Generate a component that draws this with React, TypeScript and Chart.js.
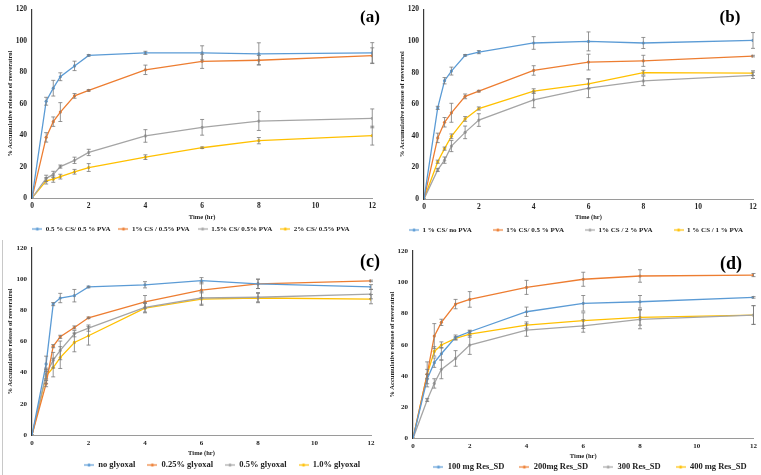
import React, { useEffect, useRef } from "react";
import { Chart, registerables } from "chart.js";
Chart.register(...registerables);

const TIME = [0, 0.5, 0.75, 1, 1.5, 2, 4, 6, 8, 12];
const X_MIN = 0, X_MAX = 12, X_STEP = 2;
const Y_MIN = 0, Y_MAX = 120, Y_STEP = 20;
const X_TITLE = "Time (hr)";
const Y_TITLE = "% Accumulative release of resveratrol";
const COLORS = ["#5B9BD5", "#ED7D31", "#A5A5A5", "#FFC000"];

// Panel (a)
const A_LABELS = ["0.5 % CS/ 0.5 % PVA", "1% CS / 0.5% PVA", "1.5% CS/ 0.5% PVA", "2% CS/ 0.5% PVA"];
const A_S1 = [0, 61.6, 69.9, 77.2, 84.1, 90.8, 92.4, 92.4, 91.8, 92.4];
const A_S1_ERR = [0, 2.5, 5, 2.5, 3, 0.5, 1, 4.5, 7, 6.5];
const A_S2 = [0, 38.6, 48.6, 54.7, 65, 68.5, 81.6, 87, 87.7, 90.6];
const A_S2_ERR = [0, 3, 3, 6, 1.5, 0.5, 3, 4.5, 3, 5];
const A_S3 = [0, 12.5, 15, 20, 24, 29, 39.5, 45, 49, 50.7];
const A_S3_ERR = [0, 2, 2, 1, 2, 2, 4, 5, 6, 6];
const A_S4 = [0, 10.9, 12, 13.6, 16.7, 19.4, 26, 32, 36.5, 39.7];
const A_S4_ERR = [0, 2, 2, 1.5, 1.5, 2.5, 1.5, 0.5, 2, 6];

// Panel (b)
const B_LABELS = ["1 % CS/ no PVA", "1% CS/ 0.5 % PVA", "1% CS / 2 % PVA", "1 % CS / 1 % PVA"];
const B_S1 = [0, 57.7, 74.9, 81, 91, 93, 98.8, 99.8, 98.8, 100.4];
const B_S1_ERR = [0, 1, 2, 2.5, 0.5, 1, 4, 6, 3.5, 5];
const B_S2 = [0, 38.7, 48.6, 54.6, 65, 68.3, 81.4, 86.7, 87.5, 90.5];
const B_S2_ERR = [0, 3, 3, 6, 1.5, 0.5, 3, 5, 3.5, 0.5];
const B_S3 = [0, 18.4, 24.6, 33.5, 42.2, 50, 62.8, 70.2, 74.8, 78.3];
const B_S3_ERR = [0, 1, 2, 3.5, 4, 4, 5, 6, 3, 2];
const B_S4 = [0, 23.6, 31.9, 39.7, 50.7, 57.3, 68.3, 72.9, 80, 79.7];
const B_S4_ERR = [0, 1, 1, 1.5, 1.5, 1, 1.5, 3, 1.5, 1.5];

// Panel (c)
const C_LABELS = ["no glyoxal", "0.25% glyoxal", "0.5% glyoxal", "1.0% glyoxal"];
const C_S1 = [0, 45.6, 84, 87.9, 89.4, 95, 96.4, 99, 97, 95];
const C_S1_ERR = [0, 5, 1, 3, 4, 0.5, 2, 2, 3, 1.5];
const C_S2 = [0, 33, 57, 63, 69, 75.2, 85.5, 93, 97, 98.9];
const C_S2_ERR = [0, 2, 1, 1, 1, 0.5, 4, 5, 3, 0.5];
const C_S3 = [0, 39, 48, 54.3, 65, 68.6, 81.9, 87.9, 88.4, 90.4];
const C_S3_ERR = [0, 3, 5, 6, 2, 2, 3, 4, 3, 3];
const C_S4 = [0, 37.9, 43.3, 49.7, 59.4, 63.7, 81.4, 87.2, 87.9, 87.2];
const C_S4_ERR = [0, 5, 6, 7, 6, 6, 3, 4, 3, 3];

// Panel (d)
const D_LABELS = ["100 mg Res_SD", "200mg Res_SD", "300 Res_SD", "400 mg Res_SD"];
const D_S1 = [0, 38, 48.5, 54.2, 64.7, 68.3, 81.1, 86.5, 87.5, 90.3];
const D_S1_ERR = [0, 3, 3, 4, 1.5, 1, 3, 5, 4, 0.5];
const D_S2 = [0, 41.2, 65.5, 74.3, 86, 89, 96.7, 101.9, 104, 104.6];
const D_S2_ERR = [0, 3, 8, 2, 3, 5, 4.5, 4.5, 4, 1];
const D_S3 = [0, 24.6, 35.2, 44.2, 51.2, 59.8, 69.4, 72, 76.2, 79];
const D_S3_ERR = [0, 1, 3, 6, 5, 6, 4, 4, 6, 6];
const D_S4 = [0, 41, 55.7, 59.8, 64, 66.8, 72.6, 75.4, 77.5, 79];
const D_S4_ERR = [0, 8, 3, 2, 1, 2, 2, 5, 5, 6];

const FONT = "'Liberation Serif', 'Times New Roman', serif";
const EXTRA = 60; // canvas overhang on the left so the legend never wraps

const PANELS = [
  {
    key: "a", tag: "(a)", left: 0, top: 0, w: 380, h: 236,
    pad: { left: 6, right: 7, top: 7, bottom: 14 }, yW: 26, xH: 23,
    tickSize: 7.5, legendSize: 7, legendGap: 8, legendCx: 191, legendCy: 229,
    tagX: 370, tagY: 18, tagSize: 17,
    labels: A_LABELS, values: [A_S1, A_S2, A_S3, A_S4], errors: [A_S1_ERR, A_S2_ERR, A_S3_ERR, A_S4_ERR],
  },
  {
    key: "b", tag: "(b)", left: 380, top: 0, w: 381, h: 236,
    pad: { left: 18, right: 8, top: 6, bottom: 14 }, yW: 26, xH: 22,
    tickSize: 7.5, legendSize: 7, legendGap: 21, legendCx: 196, legendCy: 230,
    tagX: 350, tagY: 18, tagSize: 17,
    labels: B_LABELS, values: [B_S1, B_S2, B_S3, B_S4], errors: [B_S1_ERR, B_S2_ERR, B_S3_ERR, B_S4_ERR],
  },
  {
    key: "c", tag: "(c)", left: 0, top: 236, w: 380, h: 239,
    pad: { left: 6, right: 9, top: 12, bottom: 17 }, yW: 26, xH: 22,
    tickSize: 7, legendSize: 8.5, legendGap: 12, legendCx: 222, legendCy: 229,
    tagX: 370, tagY: 26, tagSize: 18,
    labels: C_LABELS, values: [C_S1, C_S2, C_S3, C_S4], errors: [C_S1_ERR, C_S2_ERR, C_S3_ERR, C_S4_ERR],
  },
  {
    key: "d", tag: "(d)", left: 380, top: 236, w: 381, h: 239,
    pad: { left: 8, right: 6, top: 15, bottom: 14 }, yW: 25, xH: 21.6,
    tickSize: 7, legendSize: 8.5, legendGap: 15, legendCx: 210, legendCy: 231,
    tagX: 351, tagY: 28, tagSize: 18,
    labels: D_LABELS, values: [D_S1, D_S2, D_S3, D_S4], errors: [D_S1_ERR, D_S2_ERR, D_S3_ERR, D_S4_ERR],
  },
];

function makeMarker(color: string) {
  const c = document.createElement("canvas");
  c.width = 10;
  c.height = 5;
  const g = c.getContext("2d")!;
  g.strokeStyle = color;
  g.lineWidth = 1.2;
  g.beginPath();
  g.moveTo(0, 2.5);
  g.lineTo(10, 2.5);
  g.stroke();
  g.fillStyle = color;
  g.beginPath();
  g.arc(5, 2.5, 1.6, 0, Math.PI * 2);
  g.fill();
  return c;
}

const errorBarPlugin = {
  id: "errorBars",
  afterDatasetsDraw(chart: any) {
    const ctx = chart.ctx;
    const ys = chart.scales.y;
    ctx.save();
    ctx.strokeStyle = "#7a7a7a";
    ctx.lineWidth = 0.8;
    chart.data.datasets.forEach((ds: any, i: number) => {
      const meta = chart.getDatasetMeta(i);
      meta.data.forEach((pt: any, j: number) => {
        const e = ds.errors[j];
        if (!e) return;
        const v = ds.data[j].y;
        const x = pt.x;
        const y1 = ys.getPixelForValue(v + e);
        const y2 = ys.getPixelForValue(v - e);
        ctx.beginPath();
        ctx.moveTo(x, y1); ctx.lineTo(x, y2);
        ctx.moveTo(x - 2, y1); ctx.lineTo(x + 2, y1);
        ctx.moveTo(x - 2, y2); ctx.lineTo(x + 2, y2);
        ctx.stroke();
      });
    });
    ctx.restore();
  },
};

const legendPlacePlugin = {
  id: "legendPlace",
  afterLayout(chart: any, _args: any, opts: any) {
    const lg = chart.legend;
    if (!lg) return;
    const w = lg.right - lg.left;
    lg.left = opts.cx - w / 2;
    lg.right = lg.left + w;
    lg.top = opts.cy - opts.gap - opts.size / 2;
    lg.bottom = lg.top + opts.gap * 2 + opts.size + 6;
    lg.height = lg.bottom - lg.top;
  },
};

const tagPlugin = {
  id: "panelTag",
  afterDraw(chart: any, _args: any, opts: any) {
    const ctx = chart.ctx;
    ctx.save();
    ctx.font = `bold ${opts.size}px ${FONT}`;
    ctx.fillStyle = "#000";
    ctx.textAlign = "center";
    ctx.textBaseline = "middle";
    ctx.fillText(opts.text, opts.x, opts.y);
    ctx.restore();
  },
};

function Panel({ p }: { p: (typeof PANELS)[number] }) {
  const ref = useRef<HTMLCanvasElement>(null);
  const cw = p.w + EXTRA;
  useEffect(() => {
    const markers = COLORS.map(makeMarker);
    const datasets = p.labels.map((label, i) => ({
      label,
      data: TIME.map((t, j) => ({ x: t, y: p.values[i][j] })),
      errors: p.errors[i],
      borderColor: COLORS[i],
      backgroundColor: COLORS[i],
      borderWidth: 1.3,
      pointRadius: 1.6,
      pointBorderWidth: 0,
      pointBackgroundColor: COLORS[i],
      tension: 0,
    }));
    const chart = new Chart(ref.current!, {
      type: "line",
      data: { datasets } as any,
      options: {
        animation: false,
        responsive: false,
        devicePixelRatio: 1,
        layout: { padding: p.pad },
        font: { family: FONT },
        scales: {
          x: {
            type: "linear",
            min: X_MIN,
            max: X_MAX,
            grid: { display: false, drawTicks: false },
            border: { display: true, color: "#9a9a9a", width: 1 },
            ticks: {
              stepSize: X_STEP,
              autoSkip: false,
              padding: 4,
              color: "#222",
              font: { family: FONT, size: p.tickSize, weight: "bold" },
            },
            title: {
              display: true,
              text: X_TITLE,
              color: "#222",
              padding: 0,
              font: { family: FONT, size: 6.5, weight: "bold" },
            },
            afterFit: (s: any) => { s.height = p.xH; },
          },
          y: {
            min: Y_MIN,
            max: Y_MAX,
            grid: { display: false, drawTicks: false },
            border: { display: true, color: "#3a3a3a", width: 1.2 },
            ticks: {
              stepSize: Y_STEP,
              padding: 5,
              color: "#222",
              font: { family: FONT, size: p.tickSize, weight: "bold" },
            },
            title: {
              display: true,
              text: Y_TITLE,
              color: "#222",
              padding: { top: EXTRA, bottom: 0 },
              font: { family: FONT, size: 6.5, weight: "bold" },
            },
            afterFit: (s: any) => { s.width = p.yW + EXTRA; },
          },
        },
        plugins: {
          tooltip: { enabled: false },
          legend: {
            position: "bottom",
            maxHeight: 1,
            labels: {
              usePointStyle: true,
              pointStyleWidth: 10,
              padding: p.legendGap,
              color: "#222",
              font: { family: FONT, size: p.legendSize, weight: "bold" },
              generateLabels: (chart: any) => {
                const items = (Chart.defaults.plugins.legend.labels as any).generateLabels(chart);
                items.forEach((it: any, i: number) => { it.pointStyle = markers[i]; });
                return items;
              },
            },
          },
          legendPlace: { cx: p.legendCx + EXTRA, cy: p.legendCy, gap: p.legendGap, size: p.legendSize },
          panelTag: { text: p.tag, x: p.tagX + EXTRA, y: p.tagY, size: p.tagSize },
        } as any,
      },
      plugins: [errorBarPlugin, legendPlacePlugin, tagPlugin],
    } as any);
    return () => chart.destroy();
  }, []);
  return (
    <canvas
      ref={ref}
      width={cw}
      height={p.h}
      style={{ position: "absolute", left: p.left - EXTRA, top: p.top, width: cw, height: p.h }}
    />
  );
}

export default function App() {
  return (
    <div
      style={{
        position: "absolute",
        left: 0,
        top: 0,
        width: 761,
        height: 475,
        overflow: "hidden",
        background: "#fff",
      }}
    >
      <div style={{ position: "absolute", left: 2, top: 240, width: 1, height: 235, background: "#c8c8c8" }} />
      {PANELS.map((p) => (
        <Panel key={p.key} p={p} />
      ))}
    </div>
  );
}
